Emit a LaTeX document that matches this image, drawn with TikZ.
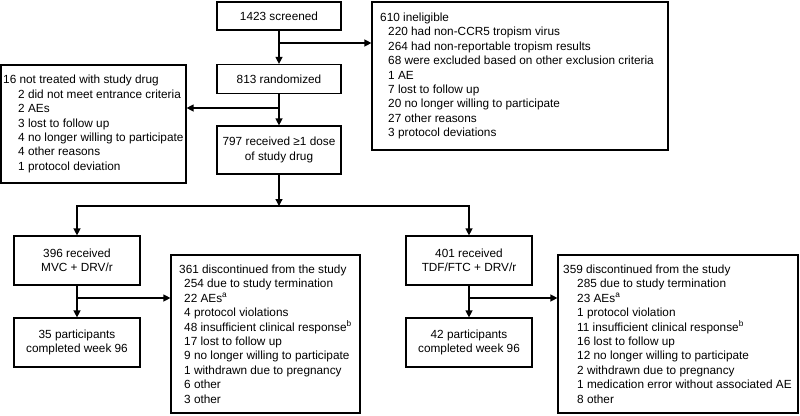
\documentclass[tikz,border=0pt]{standalone}
\usepackage{fontspec}
\setmainfont{Liberation Sans}
\usetikzlibrary{arrows.meta}
\begin{document}
\begin{tikzpicture}[x=1pt,y=-1pt,
  box/.style={draw, line width=1.2pt, inner sep=0pt},
  ctxt/.style={font=\fontsize{11.8}{14.4}\selectfont, align=center},
  ltxt/.style={font=\fontsize{11.8}{14.4}\selectfont, align=left, inner sep=0pt, anchor=west},
  conn/.style={line width=1.3pt},
  arr/.style={conn, -{Triangle[length=7pt,width=7pt]}}
]
\useasboundingbox (0,0) rectangle (800,415);

% centred boxes
\node[box, ctxt, minimum width=124pt, minimum height=28pt] (scr) at (279,16) {1423 screened};
\node[box, ctxt, minimum width=124pt, minimum height=29pt] (rnd) at (279,79) {813 randomized};
\node[box, ctxt, minimum width=124pt, minimum height=48pt] (dose) at (279,150) {797 received ≥1 dose\\of study drug};
\node[box, ctxt, minimum width=126pt, minimum height=49pt] (mvc) at (77,260.5) {396 received\\MVC + DRV/r};
\node[box, ctxt, minimum width=126pt, minimum height=49pt] (tdf) at (469,260.5) {401 received\\TDF/FTC + DRV/r};
\node[box, ctxt, minimum width=126pt, minimum height=49pt] (c35) at (77,342.5) {35 participants\\completed week 96};
\node[box, ctxt, minimum width=126pt, minimum height=49pt] (c42) at (469,342.5) {42 participants\\completed week 96};

% list boxes
\node[box, minimum width=296pt, minimum height=148pt] (inel) at (520,76) {};
\node[box, minimum width=185pt, minimum height=118pt] (ntr) at (93.5,124) {};
\node[box, minimum width=189pt, minimum height=158pt] (d361) at (265.5,334) {};
\node[box, minimum width=240pt, minimum height=158pt] (d359) at (678,334) {};

\node[ltxt] (inelt) at (380,76) {610 ineligible\\
\hspace*{8pt}220 had non-CCR5 tropism virus\\
\hspace*{8pt}264 had non-reportable tropism results\\
\hspace*{8pt}68 were excluded based on other exclusion criteria\\
\hspace*{8pt}1 AE\\
\hspace*{8pt}7 lost to follow up\\
\hspace*{8pt}20 no longer willing to participate\\
\hspace*{8pt}27 other reasons\\
\hspace*{8pt}3 protocol deviations};

\node[ltxt] (ntrt) at (3,124) {16 not treated with study drug\\
\hspace*{15pt}2 did not meet entrance criteria\\
\hspace*{15pt}2 AEs\\
\hspace*{15pt}3 lost to follow up\\
\hspace*{15pt}4 no longer willing to participate\\
\hspace*{15pt}4 other reasons\\
\hspace*{15pt}1 protocol deviation};

\node[ltxt] (d361t) at (179,334) {361 discontinued from the study\\
\hspace*{5pt}254 due to study termination\\
\hspace*{5pt}22 AEs\textsuperscript{a}\\
\hspace*{5pt}4 protocol violations\\
\hspace*{5pt}48 insufficient clinical response\textsuperscript{b}\\
\hspace*{5pt}17 lost to follow up\\
\hspace*{5pt}9 no longer willing to participate\\
\hspace*{5pt}1 withdrawn due to pregnancy\\
\hspace*{5pt}6 other\\
\hspace*{5pt}3 other};

\node[ltxt] (d359t) at (563,334) {359 discontinued from the study\\
\hspace*{14pt}285 due to study termination\\
\hspace*{14pt}23 AEs\textsuperscript{a}\\
\hspace*{14pt}1 protocol violation\\
\hspace*{14pt}11 insufficient clinical response\textsuperscript{b}\\
\hspace*{14pt}16 lost to follow up\\
\hspace*{14pt}12 no longer willing to participate\\
\hspace*{14pt}2 withdrawn due to pregnancy\\
\hspace*{14pt}1 medication error without associated AE\\
\hspace*{14pt}8 other};

% branch points
\coordinate (b1) at (279,43);
\coordinate (b2) at (279,108);
\coordinate (b3) at (279,206);
\coordinate (b4) at (77,298);
\coordinate (b5) at (469,298);

% connectors
\draw[arr] (scr.south) -- (rnd.north);
\draw[arr] (b1) -- (inel.west |- b1);
\draw[arr] (rnd.south) -- (dose.north);
\draw[arr] (b2) -- (ntr.east |- b2);
\draw[arr] (dose.south) -- (b3);
\draw[arr] (b3) -| (mvc.north);
\draw[arr] (b3) -| (tdf.north);
\draw[arr] (mvc.south) -- (c35.north);
\draw[arr] (b4) -- (d361.west |- b4);
\draw[arr] (tdf.south) -- (c42.north);
\draw[arr] (b5) -- (d359.west |- b5);
\end{tikzpicture}
\end{document}
